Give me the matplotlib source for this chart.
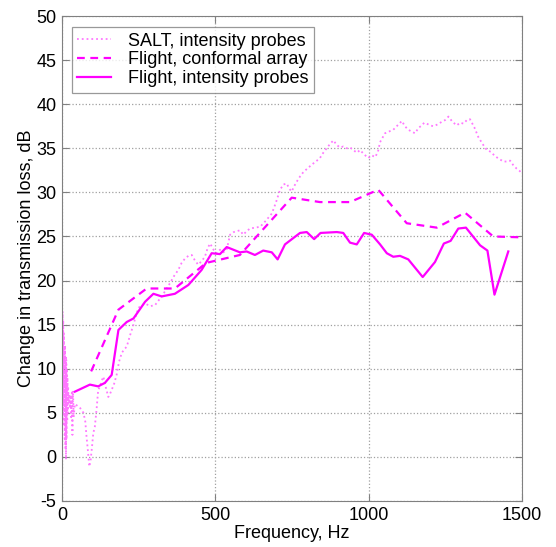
import matplotlib
matplotlib.use("Agg")
import matplotlib.pyplot as plt

plt.rcParams['font.family'] = ['Liberation Sans', 'DejaVu Sans']
plt.rcParams['axes.unicode_minus'] = False

# SALT, intensity probes (dotted)
salt_hz = [0, 1, 2, 3, 4, 5, 6, 7, 8, 9, 10, 11, 12, 13, 14, 15, 16, 17, 18, 19,
           20, 22, 24, 26, 28, 30, 32, 34, 36, 38,
           42,
           50, 58, 64, 70, 76, 80, 85, 89, 93, 98,
           102, 107, 113, 118, 124, 129, 135, 142, 151, 156,
           162, 170, 178, 186, 195, 203, 211, 222, 233, 241,
           249, 260, 271, 287, 303, 314, 325, 338, 352, 365,
           379, 390, 401, 412, 423, 433, 444, 455, 466, 475,
           483, 494, 504, 515, 526, 537, 548, 560, 570, 580,
           591, 602, 613, 630, 646, 665, 684, 697, 711, 722,
           733, 741, 749, 757, 765, 776, 787, 803, 820, 831,
           841, 852, 863, 874, 885, 895, 906, 917, 928, 939,
           950, 961, 972, 985, 999, 1010, 1021, 1030, 1037, 1045,
           1053, 1066, 1080, 1094, 1108, 1118, 1129, 1140, 1151, 1162,
           1173, 1181, 1189, 1200, 1211, 1224, 1238, 1249, 1260, 1273,
           1287, 1298, 1309, 1320, 1330, 1344, 1357, 1371, 1385, 1398,
           1412, 1425, 1439, 1450, 1461, 1471, 1482, 1493, 1500]
salt_db = [17.0, 4.0, 16.5, 5.0, 15.5, 3.5, 14.0, 6.0, 12.5, 2.0, 12.7, 1.0, 11.5, -0.3, 11.0, 2.0, 10.0, 4.0, 9.0, 5.0,
           8.0, 6.0, 7.2, 5.5, 7.0, 4.5, 7.3, 2.5, 7.5, 4.5,
           6.0,
           5.8, 5.6, 5.3, 5.0, 4.0, 2.3, 0.5, -1.1, -0.5, 1.2,
           2.7, 3.4, 5.5, 7.6, 8.0, 8.6, 9.1, 8.0, 6.8, 7.1,
           7.6, 8.3, 9.3, 10.8, 11.8, 12.2, 12.5, 13.8, 15.0, 16.0,
           16.9, 17.2, 17.4, 17.1, 17.2, 17.7, 18.2, 18.9, 19.7, 20.5,
           21.2, 22.0, 22.5, 22.8, 22.9, 22.3, 21.8, 22.2, 22.7, 23.7,
           24.2, 23.5, 23.1, 23.5, 23.2, 23.5, 25.2, 25.5, 25.6, 25.7,
           25.2, 25.6, 25.9, 26.0, 26.1, 26.8, 27.6, 28.8, 30.3, 30.9,
           31.0, 30.4, 30.1, 30.7, 31.2, 31.8, 32.3, 32.8, 33.3, 33.6,
           33.9, 34.5, 35.0, 35.5, 35.9, 35.4, 35.1, 35.2, 35.0, 35.1,
           34.8, 34.5, 34.8, 34.3, 33.9, 34.2, 34.0, 34.6, 35.7, 36.2,
           36.7, 36.9, 37.1, 37.6, 38.1, 37.5, 37.1, 36.9, 36.7, 37.3,
           37.6, 37.9, 37.8, 37.6, 37.5, 37.7, 38.0, 38.2, 38.6, 38.0,
           37.6, 37.9, 37.8, 38.2, 38.3, 37.4, 36.3, 35.5, 34.8, 34.6,
           34.1, 33.8, 33.5, 33.5, 33.6, 33.1, 32.7, 32.4, 32.1]

# Flight, conformal array (dashed)
conf_hz = [95, 184, 276, 368, 470, 580, 749, 841, 939, 1031, 1124, 1222, 1314, 1406, 1500]
conf_db = [9.7, 16.7, 19.1, 19.1, 22.0, 22.9, 29.4, 28.9, 28.9, 30.3, 26.5, 26.0, 27.7, 25.0, 24.9]

# Flight, intensity probes (solid)
fl_hz = [42, 91, 118, 140, 162, 184, 211, 233, 271, 298, 325, 368, 412, 455, 488, 515,
         537, 580, 602, 629, 656, 684, 703, 727, 776, 798, 822, 843, 896, 917, 939, 961,
         985, 1010, 1037, 1059, 1080, 1102, 1129, 1176, 1216, 1245, 1267, 1292, 1317,
         1363, 1387, 1410, 1455]
fl_db = [7.4, 8.2, 8.0, 8.4, 9.3, 14.4, 15.3, 15.7, 17.6, 18.5, 18.2, 18.5, 19.5, 21.2,
         23.1, 23.0, 23.8, 23.2, 23.3, 22.9, 23.4, 23.2, 22.4, 24.1, 25.4, 25.5, 24.7, 25.4,
         25.5, 25.4, 24.3, 24.1, 25.4, 25.2, 24.1, 23.1, 22.7, 22.8, 22.4, 20.4, 22.1, 24.2,
         24.5, 25.9, 26.0, 24.0, 23.4, 18.4, 23.3]

labels = ['SALT, intensity probes', 'Flight, conformal array', 'Flight, intensity probes']
xticks = [0, 500, 1000, 1500]
yticks = [-5, 0, 5, 10, 15, 20, 25, 30, 35, 40, 45, 50]

fig = plt.figure(figsize=(5.56, 5.47), dpi=100)
ax = fig.add_axes([0.1115, 0.0841, 0.8275, 0.8866])

ax.plot(salt_hz, salt_db, linestyle=':', color='#ff77ff', lw=1.3, label=labels[0])
ax.plot(conf_hz, conf_db, linestyle='--', color='#ff00ff', lw=1.6, label=labels[1],
        dashes=(3.5, 2.5))
ax.plot(fl_hz, fl_db, linestyle='-', color='#ff00ff', lw=1.6, label=labels[2])

ax.set_xlim(0, 1500)
ax.set_ylim(-5, 50)
ax.set_xticks(xticks)
ax.set_yticks(yticks)
ax.grid(True, linestyle=':', color='#a0a0a0', lw=0.9)
ax.set_axisbelow(True)
for s in ax.spines.values():
    s.set_color('#808080')
ax.tick_params(direction='in', top=True, right=True, color='#808080', labelsize=13,
               length=5, pad=4)
ax.set_xlabel('Frequency, Hz', fontsize=13, labelpad=1)
ax.set_ylabel('Change in transmission loss, dB', fontsize=13, labelpad=1)

leg = ax.legend(loc='upper left', bbox_to_anchor=(0.0217, 0.977), fontsize=13,
                frameon=True, fancybox=False, borderaxespad=0, handlelength=1.85,
                handletextpad=0.95, borderpad=0.3, labelspacing=0.1)
leg.get_frame().set_edgecolor('#808080')
leg.get_frame().set_linewidth(0.9)

fig.savefig('out.png', dpi=100)
